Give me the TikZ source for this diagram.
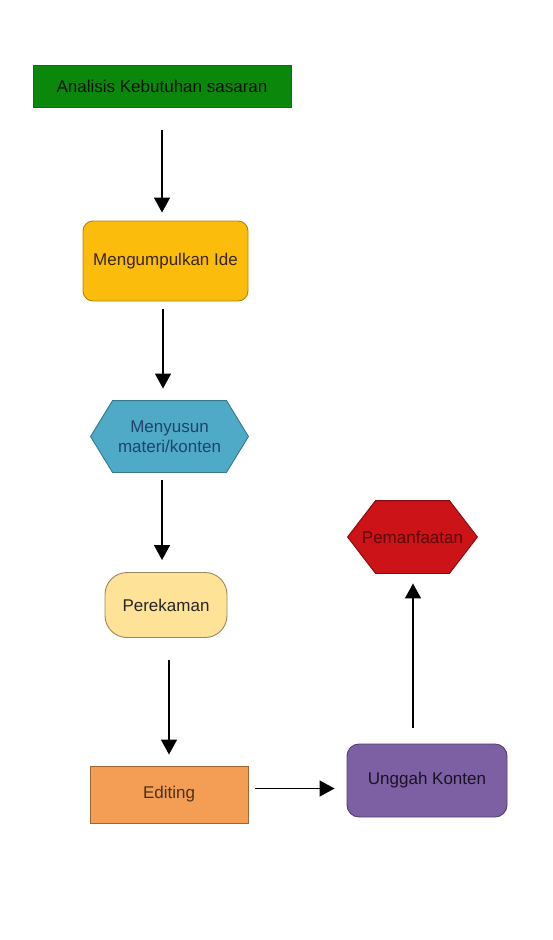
\documentclass[tikz,border=0pt]{standalone}
\usepackage{fontspec}
\setmainfont{Liberation Sans}
\usetikzlibrary{arrows.meta}
\definecolor{cgreen}{HTML}{0B870B}
\definecolor{cgold}{HTML}{FBBC0C}
\definecolor{cblue}{HTML}{4EAAC6}
\definecolor{cpale}{HTML}{FEE297}
\definecolor{corange}{HTML}{F39D55}
\definecolor{cpurple}{HTML}{7D5FA4}
\definecolor{cred}{HTML}{CB1318}
\tikzset{
  base/.style={align=center, font=\fontsize{17}{20}\selectfont, inner sep=0pt, line width=0.9pt},
  arr/.style={-{Triangle[width=16pt,length=15pt]}, line width=1.4pt},
  hexline/.style={line width=0.9pt}
}
\newcommand{\hexpath}[2]{(#1.west) -- ([xshift=#2]#1.north west) -- ([xshift=-#2]#1.north east) -- (#1.east) -- ([xshift=-#2]#1.south east) -- ([xshift=#2]#1.south west) -- cycle}
\begin{document}
\begin{tikzpicture}[x=1pt,y=-1pt]
\useasboundingbox (0,0) rectangle (553,940);
\node[base, fill=cgreen, draw=cgreen!85!black, minimum width=258pt, minimum height=42pt, text=black!85!cgreen] (a) at (162,86) {Analisis Kebutuhan sasaran};
\node[base, fill=cgold, draw=cgold!70!black, rounded corners=10pt, minimum width=165pt, minimum height=80pt, text=black!70!brown] (b) at (165.5,261) {Mengumpulkan Ide};
\node[base, minimum width=157pt, minimum height=71pt] (c) at (169.5,436.5) {};
\draw[hexline, fill=cblue, draw=cblue!70!black] \hexpath{c}{22pt};
\node[base, text=black!80!blue!60!cblue] at (c.center) {Menyusun\\materi/konten};
\node[base, fill=cpale, draw=cpale!60!black, rounded corners=22pt, minimum width=122pt, minimum height=65pt, text=black!85] (d) at (166,605) {Perekaman};
\node[base, fill=corange, draw=corange!65!black, minimum width=158pt, minimum height=57pt, text=black!60!brown] (e) at (169,794.5) {Editing};
\node[base, fill=cpurple, draw=cpurple!65!black, rounded corners=12pt, minimum width=160pt, minimum height=73pt, text=black!80!cpurple] (f) at (427,780.5) {Unggah Konten};
\node[base, minimum width=129pt, minimum height=72pt] (g) at (412.5,537) {};
\draw[hexline, fill=cred, draw=cred!65!black] \hexpath{g}{28pt};
\node[base, text=black!55!cred] at (g.center) {Pemanfaatan};
\draw[arr, shorten <=23pt, shorten >=8pt] (a.south) -- (a.south |- b.north);
\draw[arr, shorten <=8pt, shorten >=12pt] ([xshift=-2.5pt]b.south) -- ([xshift=-2.5pt]b.south |- c.north);
\draw[arr, shorten <=8pt, shorten >=12pt] ([xshift=-7.5pt]c.south) -- ([xshift=-7.5pt]c.south |- d.north);
\draw[arr, shorten <=22pt, shorten >=11pt] ([xshift=3pt]d.south) -- ([xshift=3pt]d.south |- e.north);
\draw[arr, shorten <=7pt, shorten >=12pt] ([yshift=6pt]e.east) -- ([yshift=6pt]e.east -| f.west);
\draw[arr, shorten <=16pt, shorten >=10pt] ([xshift=-14pt]f.north) -- ([xshift=-14pt]f.north |- g.south);
\end{tikzpicture}
\end{document}
